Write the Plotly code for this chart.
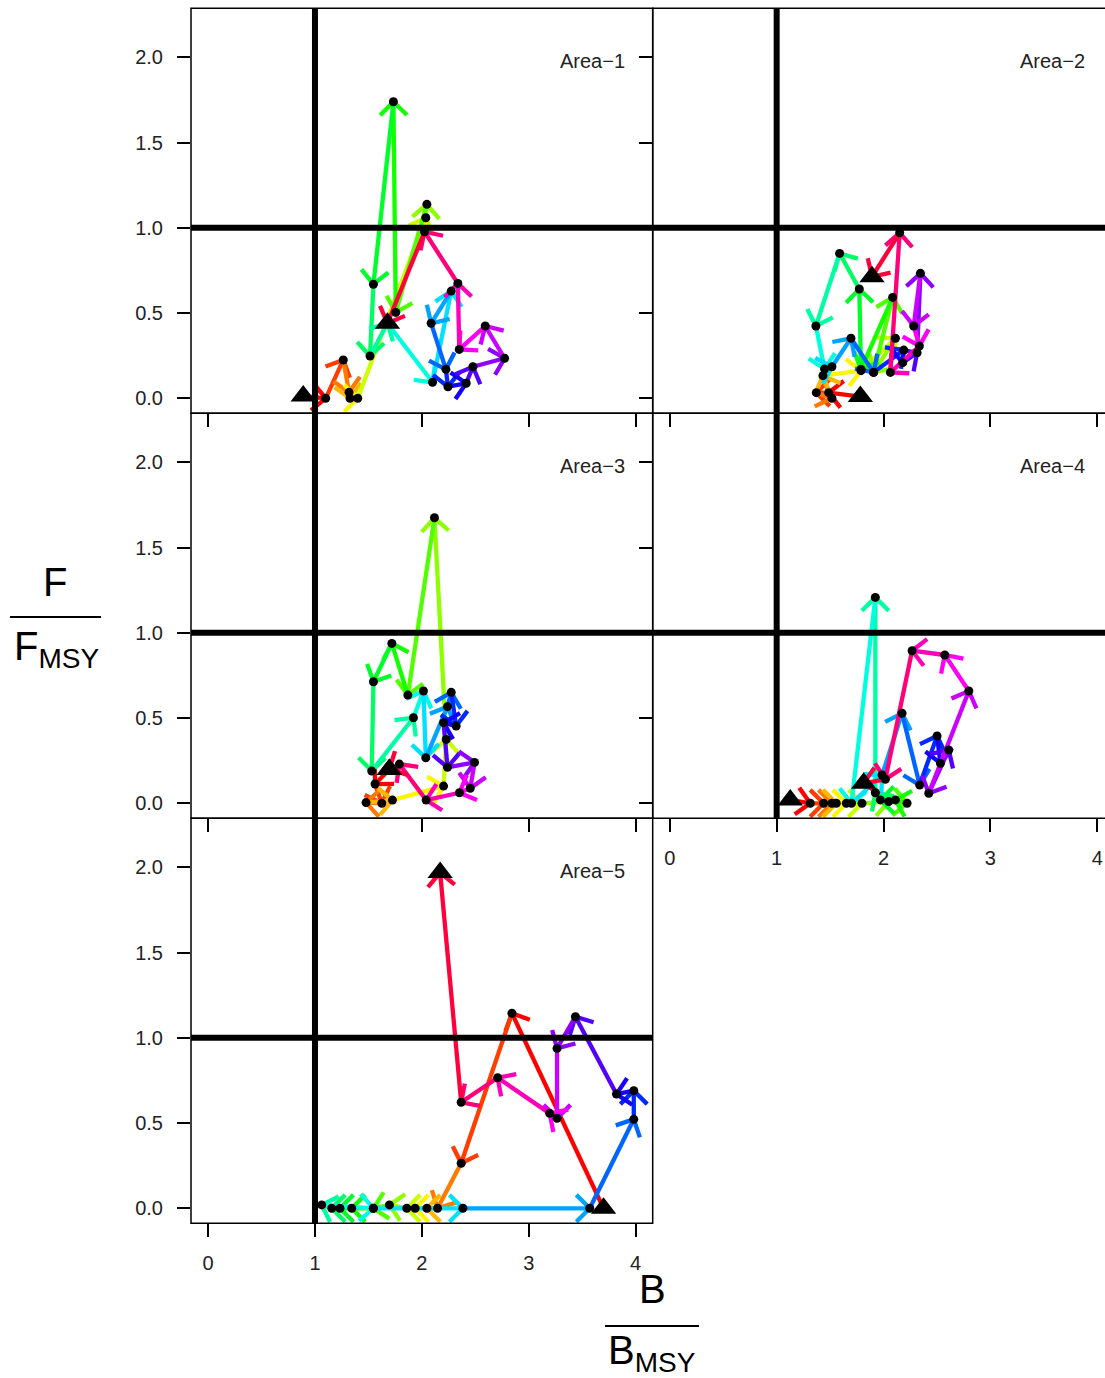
import colorsys
import math
import plotly.graph_objects as go

FIG_W, FIG_H = 1105, 1378

area_names = ["Area\u22121", "Area\u22122", "Area\u22123", "Area\u22124", "Area\u22125"]

# B/BMSY and F/FMSY trajectories (one point per year, 26 years)
area1_b = [0.89, 1.10, 1.265, 1.319, 1.328, 1.40, 2.037, 2.047, 1.756, 1.734, 1.547, 1.515, 1.678,
           2.10, 2.275, 2.087, 2.225, 2.244, 2.415, 2.478, 2.774, 2.593, 2.350, 2.337, 2.025, 1.678]
area1_f = [0.013, 0.0, 0.225, 0.035, 0.0, 0.0, 1.059, 1.138, 0.504, 1.740, 0.669, 0.248, 0.44,
           0.094, 0.629, 0.44, 0.17, 0.068, 0.088, 0.185, 0.235, 0.424, 0.287, 0.674, 0.977, 0.44]

area2_b = [1.783, 1.487, 1.371, 1.517, 1.433, 1.789, 2.111, 1.907, 2.085, 1.789, 1.773, 1.589, 1.367,
           1.448, 1.517, 1.695, 1.907, 2.189, 2.179, 2.314, 2.345, 2.282, 2.335, 2.064, 2.151, 1.892]
area2_f = [0.010, 0.033, 0.033, 0.000, 0.133, 0.162, 0.352, 0.152, 0.592, 0.170, 0.641, 0.850, 0.424,
           0.172, 0.185, 0.352, 0.152, 0.283, 0.209, 0.267, 0.733, 0.424, 0.307, 0.152, 0.971, 0.713]

area3_b = [1.696, 1.562, 1.625, 1.478, 1.725, 2.203, 2.228, 2.118, 1.869, 1.719, 1.547, 1.531, 1.921,
           2.015, 2.037, 2.240, 2.275, 2.321, 2.203, 2.240, 2.493, 2.453, 2.352, 2.040, 1.790, 1.696]
area3_f = [0.199, 0.113, 0.000, 0.004, 0.019, 0.101, 0.375, 1.675, 0.635, 0.938, 0.713, 0.189, 0.502,
           0.659, 0.267, 0.567, 0.651, 0.453, 0.473, 0.211, 0.240, 0.088, 0.062, 0.019, 0.230, 0.199]

area4_b = [1.127, 1.314, 1.439, 1.517, 1.558, 1.652, 1.798, 2.048, 2.220, 2.111, 1.970, 1.923, 1.923,
           1.700, 1.986, 2.173, 2.338, 2.501, 2.532, 2.610, 2.423, 2.798, 2.573, 2.267, 2.017, 1.814]
area4_f = [0.020, 0.000, 0.000, 0.000, 0.000, 0.000, 0.000, 0.010, 0.000, 0.020, 0.020, 0.062, 1.208,
           0.000, 0.166, 0.528, 0.107, 0.395, 0.235, 0.313, 0.059, 0.659, 0.870, 0.895, 0.141, 0.117]

area5_b = [3.70, 2.843, 2.368, 2.147, 2.047, 1.937, 1.859, 1.697, 1.546, 1.344, 1.234, 1.157, 1.063,
           1.546, 2.384, 3.571, 3.983, 3.983, 3.821, 3.437, 3.265, 3.265, 3.196, 2.709, 2.368, 2.171]
area5_f = [0.0, 1.144, 0.264, 0.0, 0.0, 0.0, 0.0, 0.02, 0.0, 0.0, 0.0, 0.0, 0.02,
           0.0, 0.0, 0.0, 0.522, 0.69, 0.67, 1.124, 0.938, 0.528, 0.557, 0.766, 0.622, 1.97]

b_ticks = [0, 1, 2, 3, 4]
f_ticks = [0.0, 0.5, 1.0, 1.5, 2.0]
f_tick_text = ["0.0", "0.5", "1.0", "1.5", "2.0"]

series_b = [area1_b, area2_b, area3_b, area4_b, area5_b]
series_f = [area1_f, area2_f, area3_f, area4_f, area5_f]

# ---- layout geometry (pixels) ----
LEFT_X0, COL_SPLIT = 191.0, 652.7
ROW_EDGES = [8.3, 413.3, 818.3, 1223.3]
X_MIN, X_MAX = -0.16, 4.16
Y_MIN, Y_MAX = -0.088, 2.288
UX = (COL_SPLIT - LEFT_X0) / (X_MAX - X_MIN)
UY = (ROW_EDGES[1] - ROW_EDGES[0]) / (Y_MAX - Y_MIN)
RIGHT_XMAX = X_MIN + (FIG_W - COL_SPLIT) / UX

panel_pos = [(0, 0), (0, 1), (1, 0), (1, 1), (2, 0)]

FONT = "Liberation Sans, Arial, Helvetica, sans-serif"
TICKFONT = dict(family=FONT, size=20, color="#222222")


def px(v):
    return v / FIG_W


def py(v):
    return 1 - v / FIG_H


def rainbow(n):
    cols = []
    for i in range(n):
        r, g, b = colorsys.hsv_to_rgb(i / n, 1, 1)
        cols.append("#%02X%02X%02X" % (round(r * 255), round(g * 255), round(b * 255)))
    return cols


def arrow_head(x0, y0, x1, y1, length=19.0, angle=45.0):
    dxp = (x1 - x0) * UX
    dyp = (y1 - y0) * UY
    d = math.hypot(dxp, dyp)
    if d < 1e-6:
        return None
    bx, by = -dxp / d, -dyp / d
    pts = []
    for s in (1, -1):
        a = math.radians(angle) * s
        rx = bx * math.cos(a) - by * math.sin(a)
        ry = bx * math.sin(a) + by * math.cos(a)
        pts.append((x1 + rx * length / UX, y1 + ry * length / UY))
    return pts


fig = go.Figure()
shapes = []
annotations = []
layout_axes = {}

for k, (row, col) in enumerate(panel_pos):
    sfx = "" if k == 0 else str(k + 1)
    xname, yname = "x" + sfx, "y" + sfx
    top, bot = ROW_EDGES[row], ROW_EDGES[row + 1]
    if col == 0:
        xl, xr = LEFT_X0, COL_SPLIT
        xrange = [X_MIN, X_MAX]
    else:
        xl, xr = COL_SPLIT, FIG_W
        xrange = [X_MIN, RIGHT_XMAX]
    show_x_labels = k in (3, 4)
    layout_axes["xaxis" + sfx] = dict(
        domain=[px(xl), px(xr)], range=xrange, anchor=yname,
        tickvals=b_ticks, ticktext=[str(t) for t in b_ticks],
        ticks="outside", ticklen=13, tickwidth=1.5, tickcolor="black",
        showticklabels=show_x_labels, tickfont=TICKFONT, ticklabelstandoff=9,
        showgrid=False, zeroline=False, showline=False, fixedrange=True,
    )
    layout_axes["yaxis" + sfx] = dict(
        domain=[py(bot), py(top)], range=[Y_MIN, Y_MAX], anchor=xname,
        tickvals=f_ticks, ticktext=f_tick_text,
        ticks="outside", ticklen=13, tickwidth=1.5, tickcolor="black",
        showticklabels=(col == 0), tickfont=TICKFONT, ticklabelstandoff=10,
        showgrid=False, zeroline=False, showline=False, fixedrange=True,
    )

    bs, fs = series_b[k], series_f[k]
    n_seg = len(bs) - 1
    cols = rainbow(n_seg)
    for i in range(n_seg):
        x0, y0, x1, y1 = bs[i], fs[i], bs[i + 1], fs[i + 1]
        xs, ys = [x0, x1], [y0, y1]
        ah = arrow_head(x0, y0, x1, y1)
        if ah:
            xs += [None, ah[0][0], x1, ah[1][0]]
            ys += [None, ah[0][1], y1, ah[1][1]]
        fig.add_trace(go.Scatter(
            x=xs, y=ys, mode="lines", xaxis=xname, yaxis=yname,
            line=dict(color=cols[i], width=4.3), hoverinfo="skip", showlegend=False,
        ))
    # year points
    fig.add_trace(go.Scatter(
        x=bs[1:-1], y=fs[1:-1], mode="markers", xaxis=xname, yaxis=yname,
        marker=dict(color="black", size=9), showlegend=False, hoverinfo="skip",
    ))
    # first and last year
    fig.add_trace(go.Scatter(
        x=[bs[0], bs[-1]], y=[fs[0], fs[-1]], mode="markers", xaxis=xname, yaxis=yname,
        marker=dict(color="black", size=22, symbol="triangle-up"),
        showlegend=False, hoverinfo="skip", cliponaxis=False,
    ))

    # reference lines B = BMSY and F = FMSY
    shapes.append(dict(type="line", xref=xname, yref=yname + " domain", x0=1, x1=1, y0=0, y1=1,
                       line=dict(color="black", width=6), layer="above"))
    shapes.append(dict(type="line", xref=xname + " domain", yref=yname, x0=0, x1=1, y0=1, y1=1,
                       line=dict(color="black", width=6), layer="above"))
    # panel frame
    right_edge = xr if col == 0 else FIG_W + 20
    shapes.append(dict(type="rect", xref="paper", yref="paper",
                       x0=px(xl), x1=px(right_edge), y0=py(bot), y1=py(top),
                       line=dict(color="black", width=1.5), layer="above"))
    # panel label
    lab_right = xr - 25.7 if col == 0 else 1087
    annotations.append(dict(text=area_names[k], xref="paper", yref="paper",
                            x=px(lab_right), y=py(top + 53), xanchor="right", yanchor="middle",
                            showarrow=False, font=dict(family=FONT, size=20, color="#222222")))

# axis titles written as fractions
BIG = dict(family=FONT, size=40, color="black")
annotations += [
    dict(text="F", xref="paper", yref="paper", x=px(55), y=py(582), xanchor="center",
         yanchor="middle", showarrow=False, font=BIG),
    dict(text="F<sub>MSY</sub>", xref="paper", yref="paper", x=px(56), y=py(649), xanchor="center",
         yanchor="middle", showarrow=False, font=BIG),
    dict(text="B", xref="paper", yref="paper", x=px(652), y=py(1289), xanchor="center",
         yanchor="middle", showarrow=False, font=BIG),
    dict(text="B<sub>MSY</sub>", xref="paper", yref="paper", x=px(652), y=py(1353), xanchor="center",
         yanchor="middle", showarrow=False, font=BIG),
]
shapes += [
    dict(type="line", xref="paper", yref="paper", x0=px(10), x1=px(101), y0=py(617), y1=py(617),
         line=dict(color="black", width=2)),
    dict(type="line", xref="paper", yref="paper", x0=px(605), x1=px(699), y0=py(1326), y1=py(1326),
         line=dict(color="black", width=2)),
]

fig.update_layout(
    width=FIG_W, height=FIG_H, margin=dict(l=0, r=0, t=0, b=0),
    paper_bgcolor="white", plot_bgcolor="white", showlegend=False,
    shapes=shapes, annotations=annotations, **layout_axes,
)

fig.write_html("out.html")
